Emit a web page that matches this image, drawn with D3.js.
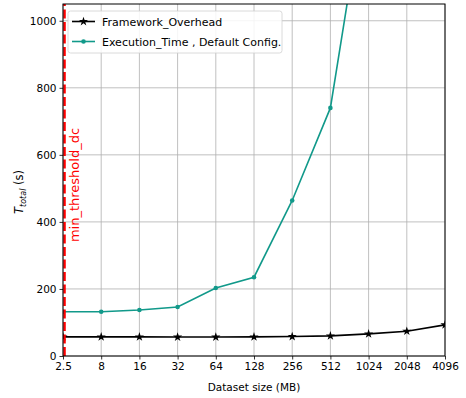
<!DOCTYPE html>
<html>
<head>
<meta charset="utf-8">
<script src="https://cdn.jsdelivr.net/npm/d3@7/dist/d3.min.js"></script>
<style>
  body { margin: 0; background: #fff; }
  svg { font-family: "DejaVu Sans", sans-serif; }
</style>
</head>
<body>
<svg id="chart" width="466" height="398"></svg>
<script>
// Dataset sizes (MB), shown as evenly spaced categories
const sizes = ["2.5", "8", "16", "32", "64", "128", "256", "512", "1024", "2048", "4096"];
// Framework overhead per dataset size (s)
const overhead = [57, 57, 57, 56.5, 56.5, 57, 58, 60, 66, 74, 93];
// Execution time with default configuration (s)
const execTime = [132, 132, 137, 146, 203, 235, 464, 740, 1450];
const yTicks = [0, 200, 400, 600, 800, 1000];
const yMax = 1050;
// Position of the min_threshold_dc marker along the category index
const thresholdIndex = 0.04;

const margin = { left: 63, right: 21, top: 4, bottom: 42 };
const W = 466, H = 398;
const svg = d3.select("#chart");

const x = d3.scaleLinear().domain([0, sizes.length - 1]).range([margin.left, W - margin.right]);
const y = d3.scaleLinear().domain([0, yMax]).range([H - margin.bottom, margin.top]);

// clip region for the plotted lines
svg.append("defs").append("clipPath").attr("id", "plot")
  .append("rect").attr("x", x(0)).attr("y", y(yMax))
  .attr("width", x(sizes.length - 1) - x(0)).attr("height", y(0) - y(yMax));

// grid
const grid = svg.append("g").attr("stroke", "#b0b0b0").attr("stroke-width", 0.8);
sizes.forEach((s, i) => grid.append("line").attr("x1", x(i)).attr("x2", x(i)).attr("y1", y(0)).attr("y2", y(yMax)));
yTicks.forEach(v => grid.append("line").attr("x1", x(0)).attr("x2", x(sizes.length - 1)).attr("y1", y(v)).attr("y2", y(v)));

// axes
const xAxis = d3.axisBottom(x).tickValues(d3.range(sizes.length)).tickFormat(i => sizes[i]).tickSize(3.5).tickPadding(3);
const yAxis = d3.axisLeft(y).tickValues(yTicks).tickFormat(d3.format("d")).tickSize(3.5).tickPadding(3);
const gx = svg.append("g").attr("transform", `translate(0,${y(0)})`).call(xAxis);
const gy = svg.append("g").attr("transform", `translate(${x(0)},0)`).call(yAxis);
[gx, gy].forEach(g => {
  g.select(".domain").remove();
  g.selectAll("text").attr("font-size", 10.5).attr("fill", "#000").attr("font-family", "DejaVu Sans");
  g.selectAll("line").attr("stroke", "#000").attr("stroke-width", 0.8);
});

const plot = svg.append("g").attr("clip-path", "url(#plot)");

// execution time series
const teal = "#11998a";
plot.append("path").datum(execTime)
  .attr("fill", "none").attr("stroke", teal).attr("stroke-width", 1.6)
  .attr("d", d3.line().x((d, i) => x(i)).y(d => y(d)));
plot.selectAll(".dot").data(execTime).enter().append("circle")
  .attr("cx", (d, i) => x(i)).attr("cy", d => y(d)).attr("r", 2.3).attr("fill", teal);

// framework overhead series
plot.append("path").datum(overhead)
  .attr("fill", "none").attr("stroke", "#000").attr("stroke-width", 1.6)
  .attr("d", d3.line().x((d, i) => x(i)).y(d => y(d)));
const star = d3.symbol().type(d3.symbolStar).size(26);
plot.selectAll(".star").data(overhead).enter().append("path")
  .attr("d", star).attr("fill", "#000")
  .attr("transform", (d, i) => `translate(${x(i)},${y(d)})`);

// threshold marker
svg.append("line")
  .attr("x1", x(thresholdIndex)).attr("x2", x(thresholdIndex))
  .attr("y1", y(0)).attr("y2", y(yMax))
  .attr("stroke", "#ff0000").attr("stroke-width", 2.5).attr("stroke-dasharray", "9,3.5");
svg.append("text")
  .attr("transform", `translate(${x(thresholdIndex) + 14},${y(yMax / 2) + 5}) rotate(-90)`)
  .attr("text-anchor", "middle").attr("fill", "#ff0000").attr("font-size", 13)
  .text("min_threshold_dc");

// frame
svg.append("rect").attr("x", x(0)).attr("y", y(yMax))
  .attr("width", x(sizes.length - 1) - x(0)).attr("height", y(0) - y(yMax))
  .attr("fill", "none").attr("stroke", "#000").attr("stroke-width", 1);

// axis labels
svg.append("text").attr("x", (x(0) + x(sizes.length - 1)) / 2).attr("y", 391)
  .attr("text-anchor", "middle").attr("font-size", 10.5).text("Dataset size (MB)");
const yl = svg.append("text")
  .attr("transform", `translate(23,${y(yMax / 2) + 12}) rotate(-90)`)
  .attr("text-anchor", "middle").attr("font-size", 11.5);
yl.append("tspan").attr("font-style", "italic").text("T");
yl.append("tspan").attr("font-style", "italic").attr("font-size", 8).attr("dy", 3).text("total");
yl.append("tspan").attr("dy", -3).text(" (s)");

// legend
const lg = svg.append("g").attr("transform", "translate(68,11)");
lg.append("rect").attr("width", 214).attr("height", 42).attr("rx", 2.5)
  .attr("fill", "#fff").attr("fill-opacity", 0.85).attr("stroke", "#d0d0d0").attr("stroke-width", 0.8);
const entries = [
  { name: "Framework_Overhead", color: "#000", mark: "star" },
  { name: "Execution_Time , Default Config.", color: teal, mark: "dot" }
];
entries.forEach((e, i) => {
  const cy = 10.5 + i * 20;
  lg.append("line").attr("x1", 4).attr("x2", 27).attr("y1", cy).attr("y2", cy)
    .attr("stroke", e.color).attr("stroke-width", 1.6);
  if (e.mark === "star") {
    lg.append("path").attr("d", star).attr("fill", e.color).attr("transform", `translate(15.5,${cy})`);
  } else {
    lg.append("circle").attr("cx", 15.5).attr("cy", cy).attr("r", 2.3).attr("fill", e.color);
  }
  lg.append("text").attr("x", 34).attr("y", cy + 4).attr("font-size", 11).text(e.name);
});
</script>
</body>
</html>
